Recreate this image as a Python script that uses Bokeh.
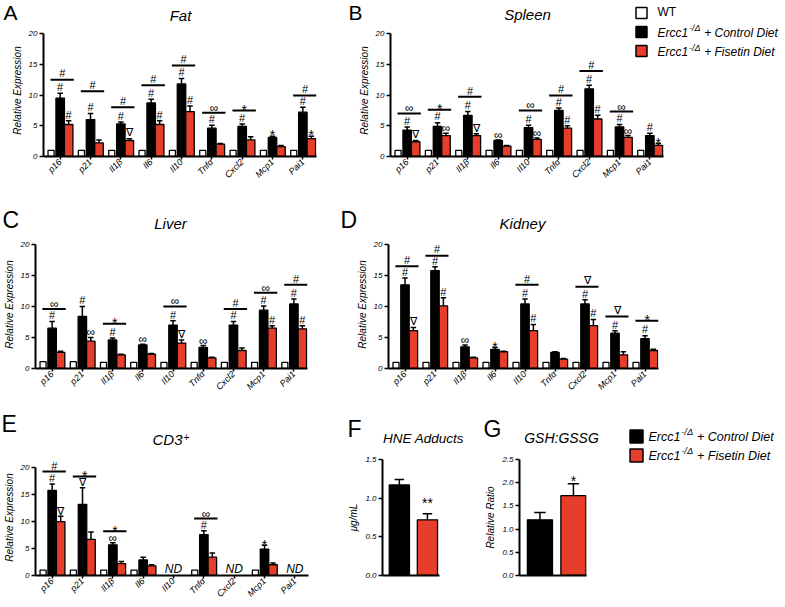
import math
from bokeh.plotting import figure
from bokeh.models import FixedTicker, Range1d, NumeralTickFormatter
from bokeh.layouts import row, column
from bokeh.embed import file_html
from bokeh.resources import INLINE
from bokeh.core.properties import value

FONT = "Liberation Sans"
LFONT = "Liberation Sans"
RED = "#E63E2B"
BASE_FIX = 0.38  # text baseline correction, fraction of font size

genes = ["p16", "p21", "Il1β", "Il6", "Il10", "Tnfα", "Cxcl2", "Mcp1", "Pai1"]

fat_wt = [1, 1, 1, 1, 1, 1, 1, 1, 1]
fat_ctrl = [9.5, 6.0, 5.3, 8.7, 11.8, 4.6, 4.9, 3.1, 7.2]
fat_ctrl_err = [0.8, 1.0, 0.3, 0.6, 0.9, 0.5, 0.4, 0.2, 0.8]
fat_fis = [5.2, 2.2, 2.6, 5.2, 7.3, 2.0, 2.7, 1.6, 2.9]
fat_fis_err = [0.6, 0.5, 0.3, 0.6, 0.9, 0.1, 0.5, 0.2, 0.4]
fat_line = [12.5, 10.6, 8.0, 11.6, 14.8, 7.1, 7.5, None, 9.9]
fat_line_sym = ["#", "#", "#", "#", "#", "∞", "*", "", "#"]
fat_ctrl_sym = ["#", "#", "#", "#", "#", "#", "#", "*", "#"]
fat_fis_sym = ["#", "", "∇", "#", "#", "", "", "", "*"]

spl_wt = [1, 1, 1, 1, 1, 1, 1, 1, 1]
spl_ctrl = [4.3, 4.9, 6.7, 2.6, 4.7, 7.5, 11.0, 4.8, 3.4]
spl_ctrl_err = [0.5, 0.6, 0.6, 0.1, 0.4, 0.4, 0.6, 0.4, 0.4]
spl_fis = [2.4, 3.4, 3.4, 1.7, 2.8, 4.6, 6.1, 3.1, 1.8]
spl_fis_err = [0.2, 0.4, 0.3, 0.1, 0.2, 0.4, 0.6, 0.3, 0.3]
spl_line = [7.0, 7.6, 9.7, None, 7.5, 9.9, 13.9, 7.3, None]
spl_line_sym = ["∞", "*", "#", "", "∞", "#", "#", "∞", ""]
spl_ctrl_sym = ["#", "#", "#", "∞", "#", "#", "#", "#", "#"]
spl_fis_sym = ["∇", "∞", "∇", "", "∞", "#", "#", "∞", "*"]

liv_wt = [1.1, 1.1, 1, 1, 1, 1, 1, 1, 1]
liv_ctrl = [6.5, 8.4, 4.6, 3.8, 7.0, 3.4, 7.0, 9.4, 10.4]
liv_ctrl_err = [1.1, 1.6, 0.3, 0.1, 0.7, 0.3, 0.6, 0.7, 0.8]
liv_fis = [2.6, 4.4, 2.2, 2.3, 4.1, 1.7, 2.9, 6.5, 6.4]
liv_fis_err = [0.2, 0.6, 0.1, 0.1, 0.5, 0.1, 0.4, 0.4, 0.5]
liv_line = [9.6, None, 7.2, None, 10.0, None, 9.6, 12.2, 13.5]
liv_line_sym = ["∞", "", "*", "", "∞", "", "#", "∞", "#"]
liv_ctrl_sym = ["#", "#", "#", "∞", "#", "∞", "#", "#", "#"]
liv_fis_sym = ["", "∞", "", "", "∇", "", "", "#", "#"]

kid_wt = [1, 1, 1, 1, 1, 1, 1, 1, 1]
kid_ctrl = [13.5, 15.8, 3.5, 3.1, 10.4, 2.6, 10.4, 5.7, 4.8]
kid_ctrl_err = [1.1, 0.6, 0.3, 0.3, 0.8, 0.1, 0.7, 0.4, 0.5]
kid_fis = [6.1, 10.1, 1.7, 2.7, 6.1, 1.5, 6.9, 2.2, 2.9]
kid_fis_err = [0.5, 1.3, 0.1, 0.1, 1.0, 0.1, 1.0, 0.5, 0.2]
kid_line = [16.5, 18.2, None, None, 13.5, None, 13.2, 8.4, 7.7]
kid_line_sym = ["#", "#", "", "", "#", "", "∇", "∇", "*"]
kid_ctrl_sym = ["#", "#", "∞", "*", "#", "", "#", "#", "#"]
kid_fis_sym = ["∇", "#", "", "", "#", "", "#", "", ""]

cd3_wt = [1, 1, 1, 1, None, 1, None, 1, None]
cd3_ctrl = [15.8, 13.2, 5.7, 2.9, None, 7.6, None, 4.9, None]
cd3_ctrl_err = [1.2, 3.1, 0.4, 0.5, None, 0.7, None, 0.7, None]
cd3_fis = [10.0, 6.7, 2.2, 1.8, None, 3.4, None, 2.0, None]
cd3_fis_err = [1.0, 1.4, 0.4, 0.2, None, 0.8, None, 0.3, None]
cd3_line = [19.3, 18.4, 8.2, None, None, 10.6, None, None, None]
cd3_line_sym = ["#", "*", "*", "", "", "∞", "", "", ""]
cd3_ctrl_sym = ["#", "∇", "∞", "", "", "#", "", "*", ""]
cd3_fis_sym = ["∇", "", "", "", "", "", "", "", ""]

hne_vals = [1.17, 0.72]
hne_errs = [0.07, 0.08]
hne_sym = ["", "**"]
gsh_vals = [1.20, 1.72]
gsh_errs = [0.16, 0.26]
gsh_sym = ["", "*"]

# symbol style: (font size px, baseline offset in px above the anchor)
SYM_STYLE = {"#": (11, 2), "*": (14, -4.5), "**": (14, -4.5), "∞": (12, 0.5), "∇": (11, 2)}
PAIR_STYLE = {"*": (14, -2.5), "**": (14, 5)}


def make_fig(cx0, cy0, cx1, cy1, fl, ft, fr, fb, xr, yr, axes=True):
    kw = dict(width=cx1 - cx0, height=cy1 - cy0,
              x_range=Range1d(*xr), y_range=Range1d(*yr),
              output_backend="svg", toolbar_location=None, title=None,
              min_border=0,
              min_border_left=fl - cx0, min_border_right=cx1 - fr,
              min_border_top=ft - cy0, min_border_bottom=cy1 - fb)
    if not axes:
        kw.update(x_axis_location=None, y_axis_location=None)
    p = figure(**kw)
    p.extra_x_ranges = {"px": Range1d(fl, fr)}
    p.extra_y_ranges = {"px": Range1d(fb, ft)}
    p.xgrid.visible = False
    p.ygrid.visible = False
    p.outline_line_color = None
    p.background_fill_color = None
    p.border_fill_color = None
    return p


def strip(x0, y0, x1, y1):
    return make_fig(x0, y0, x1, y1, x0, y0, x1, y1, (x0, x1), (y1, y0), axes=False)


def txt(p, x, y, text, size, style="normal", align="left", font=FONT, rn="default"):
    # y is the wanted baseline in (downward) pixel coordinates
    p.text(x=[x], y=[y - BASE_FIX * size], text=[text], text_font=value(font),
           text_font_size=f"{size}px", text_font_style=style, text_align=align,
           text_baseline="alphabetic", text_line_height=1.0, text_color="black",
           x_range_name=rn, y_range_name=rn)


def style_axes(p, ylabel):
    for ax in (p.xaxis[0], p.yaxis[0]):
        ax.axis_line_width = 2
        ax.axis_line_color = "black"
        ax.major_tick_line_width = 1.5
        ax.major_tick_in = 0
        ax.minor_tick_in = 0
        ax.minor_tick_out = 0
        ax.major_label_text_font = FONT
        ax.major_label_text_font_style = "italic"
        ax.major_label_text_color = "black"
        ax.major_label_standoff = 2
    p.yaxis[0].major_tick_out = 4
    p.yaxis[0].major_label_text_font_size = "8px"
    p.yaxis[0].axis_label = ylabel
    p.yaxis[0].axis_label_text_font = FONT
    p.yaxis[0].axis_label_text_font_style = "italic"
    p.yaxis[0].axis_label_text_font_size = "10px"
    p.yaxis[0].axis_label_standoff = 3
    p.yaxis[0].axis_label_text_color = "black"


def draw_err(p, xs, tops, errs, cap):
    x0, y0, y1, c0, c1 = [], [], [], [], []
    for x, t, e in zip(xs, tops, errs):
        if t is None or e is None:
            continue
        x0.append(x); y0.append(t); y1.append(t + e)
        c0.append(x - cap); c1.append(x + cap)
    p.segment(x0=x0, x1=x0, y0=y0, y1=y1, line_color="black", line_width=1.5)
    p.segment(x0=c0, x1=c1, y0=y1, y1=y1, line_color="black", line_width=1.5)


def draw_syms(p, xs, ys, syms, upx, styles=SYM_STYLE):
    groups = {}
    for x, y, s in zip(xs, ys, syms):
        if s and y is not None:
            groups.setdefault(s, []).append((x, y))
    for s, pts in groups.items():
        size, off = styles.get(s, (11, 2))
        shift = (off + BASE_FIX * size) / upx
        p.text(x=[a for a, b in pts], y=[b + shift for a, b in pts], text=[s] * len(pts),
               text_font=value(FONT), text_font_size=f"{size}px", text_line_height=1.0,
               text_align="center", text_baseline="alphabetic", text_color="black")


def gene_panel(geo, wt, ctrl, ctrl_err, fis, fis_err, line_y, line_sym, ctrl_sym, fis_sym):
    cx0, cy0, cx1, cy1, fl, fr_axis, fr_frame, f20, f0, ft = geo
    ux = (fr_axis - fl) / 9.0
    uy = (f0 - f20) / 20.0
    xr = (-0.55, 8.45 + (fr_frame - fr_axis) / ux)
    yr = (0, 20 + (f20 - ft) / uy)
    p = make_fig(cx0, cy0, cx1, cy1, fl, ft, fr_frame, f0, xr, yr)
    n = len(genes)
    o_wt, o_ctrl, o_fis = -0.30, 0.0, 0.28
    for vals, off, w, col in ((wt, o_wt, 0.2, "white"), (ctrl, o_ctrl, 0.28, "black"),
                              (fis, o_fis, 0.28, RED)):
        xs = [i + off for i in range(n) if vals[i] is not None]
        ys = [v for v in vals if v is not None]
        p.vbar(x=xs, top=ys, bottom=0, width=w, fill_color=col, line_color="black", line_width=1.3)
    draw_err(p, [i + o_ctrl for i in range(n)], ctrl, ctrl_err, 0.09)
    draw_err(p, [i + o_fis for i in range(n)], fis, fis_err, 0.09)
    lx0, lx1, ly = [], [], []
    for i in range(n):
        if line_y[i] is not None:
            lx0.append(i - 0.32); lx1.append(i + 0.45); ly.append(line_y[i])
    p.segment(x0=lx0, x1=lx1, y0=ly, y1=ly, line_color="black", line_width=2)
    draw_syms(p, [i + 0.07 for i in range(n)], line_y, line_sym, uy)
    cy = [None if c is None else c + e for c, e in zip(ctrl, ctrl_err)]
    fy = [None if c is None else c + e for c, e in zip(fis, fis_err)]
    draw_syms(p, [i + o_ctrl for i in range(n)], cy, ctrl_sym, uy)
    draw_syms(p, [i + o_fis for i in range(n)], fy, fis_sym, uy)
    ndx = [i for i in range(n) if ctrl[i] is None]
    if ndx:
        nd_y = (3 + BASE_FIX * 12) / uy
        p.text(x=ndx, y=[nd_y] * len(ndx), text=["ND"] * len(ndx), text_font=value(FONT),
               text_font_size="12px", text_font_style="italic", text_align="center",
               text_line_height=1.0, text_baseline="alphabetic", text_color="black")
    style_axes(p, "Relative Expression")
    p.xaxis.ticker = FixedTicker(ticks=list(range(n)), minor_ticks=[])
    p.xaxis.major_label_overrides = {i: g for i, g in enumerate(genes)}
    p.xaxis.major_label_orientation = math.pi / 4
    p.xaxis.major_label_text_font_size = "9px"
    p.xaxis.major_label_standoff = 1
    p.xaxis.major_tick_out = 3
    p.xaxis.bounds = (-0.55, 8.45)
    p.yaxis.ticker = FixedTicker(ticks=[0, 5, 10, 15, 20], minor_ticks=[])
    p.yaxis.bounds = (0, 20)
    return p


def pair_panel(geo, xr, w, vals, errs, syms, ymax, yticks, ylabel):
    cx0, cy0, cx1, cy1, fl, fr, ftop, f0 = geo
    p = make_fig(cx0, cy0, cx1, cy1, fl, ftop, fr, f0, xr, (0, ymax))
    p.vbar(x=[0, 1], top=vals, bottom=0, width=w, fill_color=["black", RED],
           line_color="black", line_width=1.3)
    draw_err(p, [0, 1], vals, errs, 0.17)
    tops = [v + e for v, e in zip(vals, errs)]
    draw_syms(p, [0, 1], tops, syms, (f0 - ftop) / ymax, PAIR_STYLE)
    style_axes(p, ylabel)
    p.xaxis.ticker = FixedTicker(ticks=[], minor_ticks=[])
    p.xaxis.major_tick_out = 0
    p.yaxis.ticker = FixedTicker(ticks=yticks, minor_ticks=[])
    p.yaxis.formatter = NumeralTickFormatter(format="0.0")
    return p


def legend_entry(p, bx, by, size, fill, y_text, x_text, label, fs, rn="default"):
    p.rect(x=[bx], y=[by], width=size, height=size, fill_color=fill, line_color="black",
           line_width=1.5, x_range_name=rn, y_range_name=rn)
    if label == "WT":
        txt(p, x_text, y_text, "WT", fs, "normal", rn=rn)
        return
    txt(p, x_text, y_text, "Ercc1", fs, "italic", rn=rn)
    txt(p, x_text + 2.62 * fs, y_text - 0.5 * fs, "-/Δ", 0.75 * fs, "italic", rn=rn)
    txt(p, x_text + 2.62 * fs + 1.1 * fs + 2, y_text, label, fs, "italic", rn=rn)


# ---------------- row 1 ----------------
s1 = strip(0, 0, 785, 24)
txt(s1, 3, 19.5, "A", 21, font=LFONT)
txt(s1, 180, 20.5, "Fat", 15, "italic", "center")
txt(s1, 348, 19.5, "B", 21, font=LFONT)
txt(s1, 527, 20, "Spleen", 15, "italic", "center")
legend_entry(s1, 641, 12.5, 11, "white", 16.5, 657, "WT", 12)

pA = gene_panel((0, 24, 345, 195, 43, 316, 316, 33, 156, 24),
                fat_wt, fat_ctrl, fat_ctrl_err, fat_fis, fat_fis_err,
                fat_line, fat_line_sym, fat_ctrl_sym, fat_fis_sym)
pB = gene_panel((345, 24, 785, 195, 390, 663, 785, 33, 156, 24),
                spl_wt, spl_ctrl, spl_ctrl_err, spl_fis, spl_fis_err,
                spl_line, spl_line_sym, spl_ctrl_sym, spl_fis_sym)
legend_entry(pB, 641, 31.5, 11, "black", 37, 657, "+ Control Diet", 12, rn="px")
legend_entry(pB, 641, 50.5, 11, RED, 56.5, 657, "+ Fisetin Diet", 12, rn="px")

# ---------------- row 2 ----------------
s2 = strip(0, 195, 785, 240)
txt(s2, 2, 228, "C", 23, font=LFONT)
txt(s2, 170, 229, "Liver", 15, "italic", "center")
txt(s2, 340, 228, "D", 23, font=LFONT)
txt(s2, 522, 229, "Kidney", 15, "italic", "center")

pC = gene_panel((0, 240, 338, 400, 33, 307, 307, 244, 368, 240),
                liv_wt, liv_ctrl, liv_ctrl_err, liv_fis, liv_fis_err,
                liv_line, liv_line_sym, liv_ctrl_sym, liv_fis_sym)
pD = gene_panel((338, 240, 785, 400, 388, 658, 658, 244, 368, 240),
                kid_wt, kid_ctrl, kid_ctrl_err, kid_fis, kid_fis_err,
                kid_line, kid_line_sym, kid_ctrl_sym, kid_fis_sym)

# ---------------- row 3 ----------------
s3 = strip(0, 400, 600, 449)
txt(s3, 1, 432, "E", 23, font=LFONT)
txt(s3, 167, 445, "CD3", 15, "italic", "center")
txt(s3, 183, 440, "+", 10, "italic")
txt(s3, 347, 437, "F", 23, font=LFONT)
txt(s3, 423, 443, "HNE Adducts", 13.5, "italic", "center")
txt(s3, 483, 437, "G", 23, font=LFONT)
txt(s3, 561, 443, "GSH:GSSG", 14, "italic", "center")

pE = gene_panel((0, 449, 345, 606, 32, 308, 308, 458, 575, 449),
                cd3_wt, cd3_ctrl, cd3_ctrl_err, cd3_fis, cd3_fis_err,
                cd3_line, cd3_line_sym, cd3_ctrl_sym, cd3_fis_sym)
pF = pair_panel((345, 449, 480, 606, 380, 439, 459, 575), (-0.6, 1.43), 0.72,
                hne_vals, hne_errs, hne_sym, 1.5, [0, 0.5, 1.0, 1.5], "μg/mL")
pG = pair_panel((480, 449, 600, 606, 519, 586, 458, 575), (-0.61, 1.39), 0.75,
                gsh_vals, gsh_errs, gsh_sym, 2.5, [0, 0.5, 1.0, 1.5, 2.0, 2.5], "Relative Ratio")

pL = strip(600, 400, 785, 606)
legend_entry(pL, 636, 436, 13, "black", 441, 648, "+ Control Diet", 12.5)
legend_entry(pL, 636, 455, 13, RED, 460, 648, "+ Fisetin Diet", 12.5)

layout = column(
    column(s1, row(pA, pB, spacing=0), spacing=0),
    column(s2, row(pC, pD, spacing=0), spacing=0),
    row(column(s3, row(pE, pF, pG, spacing=0), spacing=0), pL, spacing=0),
    spacing=0,
)

open("out.html", "w").write(file_html(layout, INLINE))
